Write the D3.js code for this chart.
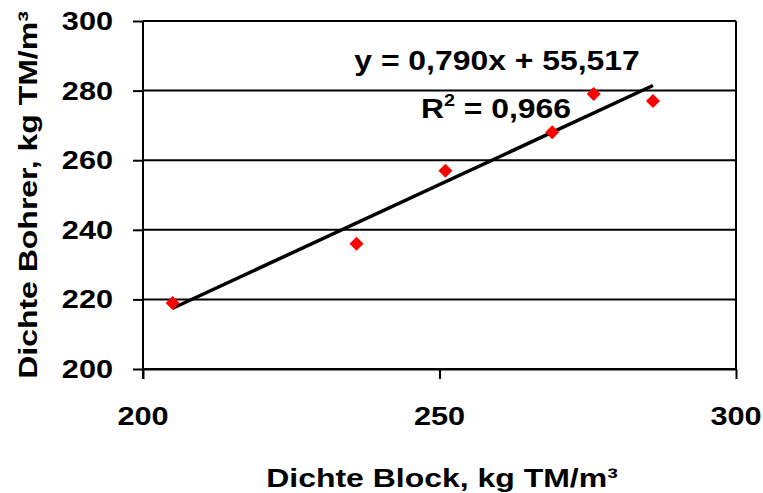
<!DOCTYPE html>
<html>
<head>
<meta charset="utf-8">
<script src="https://cdn.jsdelivr.net/npm/d3@7"></script>
<style>
  html, body { margin: 0; padding: 0; background: #fff; }
  svg { display: block; }
  text { font-family: "Liberation Sans", Arial, sans-serif; font-weight: bold; fill: #000; }
</style>
</head>
<body>
<svg id="chart" width="763" height="493"></svg>
<script>
// Bulk density: block samples vs. drill-core samples
const dichteBlock  = [205, 236, 251, 269, 276, 286];
const dichteBohrer = [219, 236, 257, 268, 279, 277];

const xTicks = [200, 250, 300];
const yTicks = [200, 220, 240, 260, 280, 300];

// Linear trend as stated in the equation label
const slope = 0.790;
const intercept = 55.517;
const rSquared = 0.966;

const xTitle = "Dichte Block, kg TM/m³";
const yTitle = "Dichte Bohrer, kg TM/m³";

const svg = d3.select("#chart");
const plot = { left: 143, right: 736, top: 21, bottom: 369 };

const x = d3.scaleLinear().domain([200, 300]).range([plot.left, plot.right]);
const y = d3.scaleLinear().domain([200, 300]).range([plot.bottom, plot.top]);

function addText(g, str, px, py, size, anchor, sx) {
  return g.append("text")
    .attr("transform", `translate(${px},${py}) scale(${sx},1)`)
    .attr("text-anchor", anchor)
    .attr("font-size", size)
    .text(str);
}

// horizontal gridlines
svg.append("g").selectAll("line").data(yTicks).join("line")
  .attr("x1", plot.left).attr("x2", plot.right)
  .attr("y1", d => y(d)).attr("y2", d => y(d))
  .attr("stroke", "#000").attr("stroke-width", 2);

// right border of plot area
svg.append("line")
  .attr("x1", plot.right).attr("x2", plot.right)
  .attr("y1", plot.top).attr("y2", plot.bottom)
  .attr("stroke", "#000").attr("stroke-width", 2);

// axes
const yAxis = svg.append("g")
  .attr("transform", `translate(${plot.left},0)`)
  .call(d3.axisLeft(y).tickValues(yTicks).tickSize(10).tickSizeOuter(0).tickFormat(""));
const xAxis = svg.append("g")
  .attr("transform", `translate(0,${plot.bottom})`)
  .call(d3.axisBottom(x).tickValues(xTicks).tickSize(10).tickSizeOuter(0).tickFormat(""));
[xAxis, yAxis].forEach(a => {
  a.select(".domain").attr("stroke", "#000").attr("stroke-width", 2);
  a.selectAll(".tick line").attr("stroke", "#000").attr("stroke-width", 2);
});
// extend the vertical axis line down through the tick length
yAxis.select(".domain").attr("d", `M0,${plot.top}V${plot.bottom + 10}`);

// tick labels
const labels = svg.append("g");
yTicks.forEach(v => addText(labels, String(v), 113, y(v) + 9, 26, "end", 1.18));
xTicks.forEach(v => addText(labels, String(v), x(v), 425, 26, "middle", 1.18));

// axis titles
addText(labels, xTitle, 442, 487, 26, "middle", 1.23);
svg.append("text")
  .attr("transform", `translate(37,${(plot.top + plot.bottom) / 2}) rotate(-90) scale(1.23,1)`)
  .attr("text-anchor", "middle")
  .attr("font-size", 26)
  .text(yTitle);

// trend line over the data range
const x0 = d3.min(dichteBlock), x1 = d3.max(dichteBlock);
svg.append("line")
  .attr("x1", x(x0)).attr("y1", y(slope * x0 + intercept))
  .attr("x2", x(x1)).attr("y2", y(slope * x1 + intercept))
  .attr("stroke", "#000").attr("stroke-width", 3.5);

// data points
const pts = dichteBlock.map((d, i) => [d, dichteBohrer[i]]);
svg.append("g").selectAll("path").data(pts).join("path")
  .attr("d", d3.symbol(d3.symbolSquare, 98))
  .attr("transform", d => `translate(${x(d[0])},${y(d[1])}) rotate(45)`)
  .attr("fill", "#ff0000");

// equation and R²
const fmt = v => v.toFixed(3).replace(".", ",");
addText(labels, `y = ${fmt(slope)}x + ${fmt(intercept)}`, 497, 70, 27.5, "middle", 1.16);
const r2 = labels.append("text")
  .attr("transform", `translate(496,118) scale(1.16,1)`)
  .attr("text-anchor", "middle")
  .attr("font-size", 27.5);
r2.append("tspan").text("R");
r2.append("tspan").attr("font-size", 17).attr("dy", -12).text("2");
r2.append("tspan").attr("dy", 12).text(` = ${fmt(rSquared)}`);
</script>
</body>
</html>
